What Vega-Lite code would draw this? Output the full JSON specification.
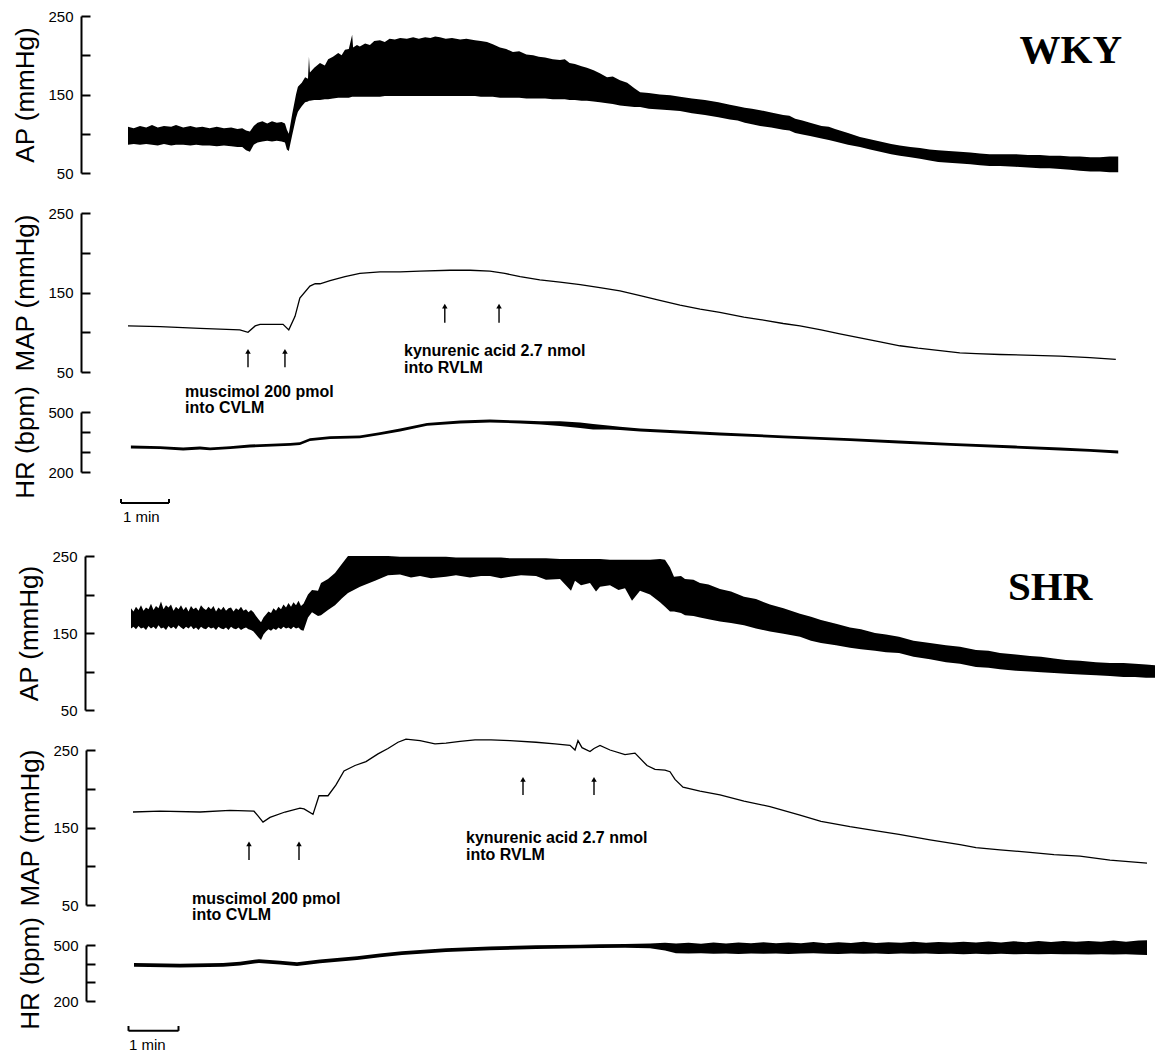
{
  "$schema": "https://vega.github.io/schema/vega-lite/v6.json",
  "background": "white",
  "padding": {"top": 9, "left": 12, "right": 0, "bottom": 0},
  "spacing": 40,
  "bounds": "flush",
  "datasets": {
    "wky_ap": [
      {"t":0,"sys":109,"dia":86},{"t":0.12,"sys":107,"dia":87},{"t":0.25,"sys":110,"dia":86},{"t":0.38,"sys":108,"dia":87},{"t":0.5,"sys":111,"dia":86},{"t":0.62,"sys":108,"dia":85},{"t":0.75,"sys":110,"dia":87},{"t":0.9,"sys":109,"dia":85},{"t":1.0,"sys":111,"dia":86},{"t":1.15,"sys":108,"dia":86},{"t":1.3,"sys":110,"dia":85},{"t":1.42,"sys":108,"dia":86},{"t":1.55,"sys":109,"dia":85},{"t":1.7,"sys":107,"dia":85},{"t":1.85,"sys":109,"dia":84},{"t":2.0,"sys":107,"dia":85},{"t":2.15,"sys":108,"dia":84},{"t":2.28,"sys":106,"dia":83},{"t":2.38,"sys":107,"dia":83},{"t":2.46,"sys":104,"dia":79},{"t":2.54,"sys":103,"dia":77},{"t":2.62,"sys":110,"dia":86},{"t":2.7,"sys":114,"dia":89},{"t":2.8,"sys":116,"dia":90},{"t":2.9,"sys":113,"dia":91},{"t":3.0,"sys":116,"dia":90},{"t":3.1,"sys":114,"dia":91},{"t":3.2,"sys":115,"dia":90},{"t":3.27,"sys":113,"dia":89},{"t":3.31,"sys":105,"dia":80},{"t":3.35,"sys":100,"dia":78},{"t":3.42,"sys":125,"dia":98},{"t":3.5,"sys":150,"dia":120},{"t":3.54,"sys":160,"dia":128},{"t":3.62,"sys":165,"dia":135},{"t":3.69,"sys":172,"dia":140},{"t":3.75,"sys":170,"dia":141},{"t":3.77,"sys":198,"dia":142},{"t":3.79,"sys":178,"dia":142},{"t":3.88,"sys":184,"dia":143},{"t":4.0,"sys":190,"dia":143},{"t":4.1,"sys":187,"dia":144},{"t":4.17,"sys":195,"dia":144},{"t":4.27,"sys":198,"dia":145},{"t":4.38,"sys":203,"dia":146},{"t":4.45,"sys":200,"dia":146},{"t":4.52,"sys":207,"dia":146},{"t":4.6,"sys":208,"dia":146},{"t":4.67,"sys":226,"dia":147},{"t":4.69,"sys":210,"dia":147},{"t":4.77,"sys":213,"dia":147},{"t":4.83,"sys":211,"dia":147},{"t":4.94,"sys":215,"dia":147},{"t":5.04,"sys":213,"dia":147},{"t":5.13,"sys":218,"dia":147},{"t":5.25,"sys":219,"dia":147},{"t":5.35,"sys":217,"dia":148},{"t":5.45,"sys":221,"dia":148},{"t":5.56,"sys":220,"dia":148},{"t":5.67,"sys":222,"dia":148},{"t":5.81,"sys":221,"dia":148},{"t":5.94,"sys":223,"dia":148},{"t":6.06,"sys":221,"dia":148},{"t":6.19,"sys":223,"dia":148},{"t":6.3,"sys":222,"dia":148},{"t":6.4,"sys":224,"dia":148},{"t":6.5,"sys":223,"dia":148},{"t":6.62,"sys":221,"dia":148},{"t":6.75,"sys":222,"dia":148},{"t":6.92,"sys":220,"dia":148},{"t":7.05,"sys":221,"dia":148},{"t":7.23,"sys":219,"dia":148},{"t":7.35,"sys":218,"dia":147},{"t":7.48,"sys":217,"dia":147},{"t":7.6,"sys":214,"dia":147},{"t":7.75,"sys":210,"dia":146},{"t":7.88,"sys":208,"dia":146},{"t":8.02,"sys":204,"dia":146},{"t":8.15,"sys":205,"dia":146},{"t":8.3,"sys":201,"dia":145},{"t":8.44,"sys":200,"dia":145},{"t":8.56,"sys":198,"dia":145},{"t":8.69,"sys":197,"dia":145},{"t":8.85,"sys":195,"dia":144},{"t":9.0,"sys":194,"dia":144},{"t":9.1,"sys":195,"dia":144},{"t":9.2,"sys":190,"dia":143},{"t":9.31,"sys":189,"dia":143},{"t":9.45,"sys":186,"dia":142},{"t":9.56,"sys":184,"dia":142},{"t":9.7,"sys":181,"dia":141},{"t":9.83,"sys":177,"dia":140},{"t":9.98,"sys":172,"dia":139},{"t":10.1,"sys":173,"dia":138},{"t":10.25,"sys":168,"dia":136},{"t":10.4,"sys":165,"dia":135},{"t":10.55,"sys":158,"dia":134},{"t":10.67,"sys":153,"dia":134},{"t":10.85,"sys":152,"dia":132},{"t":11.08,"sys":150,"dia":131},{"t":11.3,"sys":149,"dia":130},{"t":11.5,"sys":147,"dia":129},{"t":11.75,"sys":145,"dia":126},{"t":12.02,"sys":143,"dia":124},{"t":12.3,"sys":140,"dia":121},{"t":12.54,"sys":137,"dia":118},{"t":12.7,"sys":135,"dia":117},{"t":12.85,"sys":133,"dia":114},{"t":13.0,"sys":132,"dia":112},{"t":13.17,"sys":130,"dia":110},{"t":13.4,"sys":127,"dia":108},{"t":13.65,"sys":124,"dia":105},{"t":13.78,"sys":123,"dia":104},{"t":13.9,"sys":119,"dia":101},{"t":14.05,"sys":117,"dia":99},{"t":14.21,"sys":114,"dia":97},{"t":14.45,"sys":110,"dia":94},{"t":14.6,"sys":109,"dia":92},{"t":14.73,"sys":106,"dia":90},{"t":15.0,"sys":101,"dia":86},{"t":15.25,"sys":96,"dia":83},{"t":15.46,"sys":93,"dia":80},{"t":15.67,"sys":90,"dia":77},{"t":15.9,"sys":87,"dia":74},{"t":16.08,"sys":85,"dia":72},{"t":16.3,"sys":83,"dia":70},{"t":16.5,"sys":82,"dia":68},{"t":16.7,"sys":80,"dia":66},{"t":16.88,"sys":79,"dia":64},{"t":17.1,"sys":78,"dia":63},{"t":17.33,"sys":77,"dia":62},{"t":17.55,"sys":76,"dia":61},{"t":17.75,"sys":75,"dia":60},{"t":17.95,"sys":74,"dia":59},{"t":18.17,"sys":74,"dia":59},{"t":18.48,"sys":74,"dia":58},{"t":18.75,"sys":73,"dia":57},{"t":19.0,"sys":73,"dia":56},{"t":19.2,"sys":72,"dia":56},{"t":19.42,"sys":72,"dia":55},{"t":19.63,"sys":71,"dia":54},{"t":19.83,"sys":71,"dia":53},{"t":20.05,"sys":70,"dia":52},{"t":20.25,"sys":70,"dia":52},{"t":20.45,"sys":71,"dia":51},{"t":20.63,"sys":71,"dia":51}
    ],
    "wky_map": [
      {"t":0,"v":108},{"t":0.67,"v":107},{"t":1.5,"v":105},{"t":2.33,"v":103},{"t":2.5,"v":100},{"t":2.65,"v":108},{"t":2.75,"v":110},{"t":3.23,"v":110},{"t":3.35,"v":103},{"t":3.48,"v":120},{"t":3.58,"v":143},{"t":3.79,"v":158},{"t":3.9,"v":161},{"t":4.0,"v":161},{"t":4.21,"v":165},{"t":4.52,"v":170},{"t":4.83,"v":174},{"t":5.25,"v":176},{"t":5.67,"v":176},{"t":6.08,"v":177},{"t":6.71,"v":178},{"t":7.13,"v":178},{"t":7.54,"v":177},{"t":7.85,"v":174},{"t":8.17,"v":170},{"t":8.58,"v":166},{"t":9.0,"v":163},{"t":9.42,"v":160},{"t":9.83,"v":156},{"t":10.25,"v":152},{"t":10.67,"v":146},{"t":11.08,"v":140},{"t":11.5,"v":134},{"t":11.92,"v":129},{"t":12.33,"v":125},{"t":12.83,"v":119},{"t":13.17,"v":116},{"t":13.65,"v":111},{"t":14.0,"v":108},{"t":14.44,"v":103},{"t":14.83,"v":98},{"t":15.25,"v":93},{"t":15.67,"v":88},{"t":16.08,"v":83},{"t":16.46,"v":80},{"t":16.92,"v":77},{"t":17.33,"v":74},{"t":17.67,"v":73},{"t":18.17,"v":72},{"t":18.88,"v":71},{"t":19.42,"v":70},{"t":20.04,"v":68},{"t":20.58,"v":66}
    ],
    "wky_hr": [
      {"t":0.06,"lo":318,"hi":332},{"t":0.67,"lo":315,"hi":329},{"t":1.15,"lo":308,"hi":322},{"t":1.5,"lo":313,"hi":327},{"t":1.71,"lo":309,"hi":323},{"t":2.13,"lo":315,"hi":329},{"t":2.54,"lo":323,"hi":337},{"t":3.38,"lo":331,"hi":345},{"t":3.58,"lo":335,"hi":349},{"t":3.79,"lo":355,"hi":369},{"t":4.21,"lo":365,"hi":379},{"t":4.83,"lo":369,"hi":383},{"t":5.25,"lo":385,"hi":399},{"t":5.67,"lo":403,"hi":417},{"t":6.23,"lo":431,"hi":445},{"t":6.92,"lo":443,"hi":457},{"t":7.54,"lo":448,"hi":462},{"t":8.17,"lo":443,"hi":457},{"t":8.6,"lo":438,"hi":454},{"t":9.0,"lo":430,"hi":454},{"t":9.42,"lo":420,"hi":448},{"t":9.69,"lo":412,"hi":440},{"t":10.0,"lo":412,"hi":432},{"t":10.25,"lo":410,"hi":426},{"t":10.67,"lo":403,"hi":417},{"t":11.5,"lo":393,"hi":407},{"t":12.33,"lo":383,"hi":397},{"t":13.65,"lo":369,"hi":383},{"t":15.04,"lo":355,"hi":369},{"t":16.06,"lo":343,"hi":357},{"t":17.13,"lo":331,"hi":345},{"t":18.48,"lo":318,"hi":332},{"t":19.42,"lo":308,"hi":322},{"t":20.04,"lo":301,"hi":315},{"t":20.63,"lo":293,"hi":307}
    ],
    "shr_ap": [
      {"t":0.0,"sys":182,"dia":156},{"t":0.05,"sys":178,"dia":158},{"t":0.1,"sys":184,"dia":155},{"t":0.15,"sys":180,"dia":159},{"t":0.2,"sys":186,"dia":156},{"t":0.25,"sys":179,"dia":157},{"t":0.3,"sys":183,"dia":154},{"t":0.35,"sys":181,"dia":159},{"t":0.4,"sys":188,"dia":156},{"t":0.45,"sys":180,"dia":158},{"t":0.5,"sys":185,"dia":155},{"t":0.55,"sys":182,"dia":160},{"t":0.6,"sys":191,"dia":156},{"t":0.65,"sys":181,"dia":157},{"t":0.7,"sys":186,"dia":154},{"t":0.75,"sys":183,"dia":159},{"t":0.8,"sys":187,"dia":156},{"t":0.85,"sys":179,"dia":158},{"t":0.9,"sys":184,"dia":155},{"t":0.95,"sys":181,"dia":160},{"t":1.0,"sys":186,"dia":157},{"t":1.05,"sys":180,"dia":155},{"t":1.1,"sys":184,"dia":158},{"t":1.15,"sys":178,"dia":156},{"t":1.2,"sys":185,"dia":159},{"t":1.25,"sys":181,"dia":155},{"t":1.3,"sys":183,"dia":157},{"t":1.35,"sys":179,"dia":154},{"t":1.4,"sys":186,"dia":158},{"t":1.45,"sys":182,"dia":156},{"t":1.5,"sys":180,"dia":155},{"t":1.55,"sys":184,"dia":158},{"t":1.6,"sys":181,"dia":156},{"t":1.65,"sys":185,"dia":157},{"t":1.7,"sys":178,"dia":154},{"t":1.75,"sys":183,"dia":158},{"t":1.8,"sys":180,"dia":156},{"t":1.85,"sys":184,"dia":155},{"t":1.9,"sys":179,"dia":157},{"t":1.95,"sys":182,"dia":154},{"t":2.0,"sys":183,"dia":158},{"t":2.05,"sys":178,"dia":156},{"t":2.1,"sys":182,"dia":155},{"t":2.15,"sys":180,"dia":157},{"t":2.2,"sys":184,"dia":154},{"t":2.25,"sys":179,"dia":156},{"t":2.3,"sys":181,"dia":157},{"t":2.35,"sys":177,"dia":155},{"t":2.4,"sys":180,"dia":154},{"t":2.45,"sys":177,"dia":152},{"t":2.5,"sys":172,"dia":148},{"t":2.55,"sys":168,"dia":144},{"t":2.6,"sys":164,"dia":141},{"t":2.65,"sys":170,"dia":148},{"t":2.7,"sys":174,"dia":152},{"t":2.75,"sys":178,"dia":155},{"t":2.8,"sys":176,"dia":153},{"t":2.85,"sys":182,"dia":156},{"t":2.9,"sys":179,"dia":154},{"t":2.95,"sys":184,"dia":157},{"t":3.0,"sys":181,"dia":155},{"t":3.05,"sys":187,"dia":158},{"t":3.1,"sys":183,"dia":156},{"t":3.15,"sys":189,"dia":157},{"t":3.2,"sys":184,"dia":155},{"t":3.25,"sys":190,"dia":158},{"t":3.3,"sys":186,"dia":156},{"t":3.35,"sys":192,"dia":157},{"t":3.4,"sys":185,"dia":154},{"t":3.45,"sys":188,"dia":153},{"t":3.54,"sys":200,"dia":170},{"t":3.62,"sys":206,"dia":177},{"t":3.74,"sys":205,"dia":172},{"t":3.8,"sys":215,"dia":173},{"t":3.94,"sys":220,"dia":180},{"t":4.08,"sys":228,"dia":186},{"t":4.22,"sys":240,"dia":195},{"t":4.34,"sys":250,"dia":202},{"t":4.58,"sys":250,"dia":210},{"t":4.88,"sys":250,"dia":218},{"t":5.14,"sys":250,"dia":225},{"t":5.38,"sys":249,"dia":226},{"t":5.6,"sys":249,"dia":222},{"t":5.78,"sys":249,"dia":224},{"t":6.0,"sys":249,"dia":221},{"t":6.3,"sys":249,"dia":223},{"t":6.5,"sys":248,"dia":225},{"t":6.78,"sys":248,"dia":222},{"t":7.0,"sys":248,"dia":224},{"t":7.18,"sys":248,"dia":224},{"t":7.4,"sys":248,"dia":221},{"t":7.58,"sys":247,"dia":223},{"t":7.8,"sys":247,"dia":225},{"t":8.1,"sys":247,"dia":224},{"t":8.3,"sys":247,"dia":219},{"t":8.58,"sys":246,"dia":220},{"t":8.8,"sys":246,"dia":205},{"t":8.88,"sys":246,"dia":218},{"t":9.0,"sys":246,"dia":212},{"t":9.18,"sys":246,"dia":215},{"t":9.3,"sys":246,"dia":204},{"t":9.38,"sys":246,"dia":210},{"t":9.58,"sys":245,"dia":212},{"t":9.75,"sys":245,"dia":206},{"t":9.88,"sys":245,"dia":208},{"t":10.02,"sys":245,"dia":192},{"t":10.18,"sys":245,"dia":205},{"t":10.38,"sys":245,"dia":200},{"t":10.58,"sys":246,"dia":190},{"t":10.68,"sys":245,"dia":184},{"t":10.78,"sys":235,"dia":178},{"t":10.86,"sys":223,"dia":178},{"t":11.0,"sys":224,"dia":176},{"t":11.08,"sys":220,"dia":173},{"t":11.25,"sys":219,"dia":172},{"t":11.38,"sys":215,"dia":170},{"t":11.55,"sys":213,"dia":168},{"t":11.78,"sys":207,"dia":165},{"t":12.0,"sys":204,"dia":163},{"t":12.26,"sys":197,"dia":160},{"t":12.5,"sys":194,"dia":156},{"t":12.78,"sys":187,"dia":152},{"t":13.05,"sys":182,"dia":149},{"t":13.38,"sys":175,"dia":145},{"t":13.6,"sys":171,"dia":140},{"t":13.8,"sys":167,"dia":137},{"t":14.1,"sys":162,"dia":134},{"t":14.38,"sys":157,"dia":131},{"t":14.6,"sys":155,"dia":129},{"t":14.88,"sys":150,"dia":127},{"t":15.1,"sys":148,"dia":125},{"t":15.36,"sys":145,"dia":124},{"t":15.65,"sys":140,"dia":119},{"t":15.98,"sys":137,"dia":116},{"t":16.3,"sys":134,"dia":112},{"t":16.58,"sys":132,"dia":110},{"t":16.9,"sys":128,"dia":106},{"t":17.15,"sys":127,"dia":105},{"t":17.38,"sys":124,"dia":103},{"t":17.7,"sys":122,"dia":101},{"t":17.98,"sys":120,"dia":100},{"t":18.2,"sys":119,"dia":99},{"t":18.46,"sys":117,"dia":98},{"t":18.7,"sys":115,"dia":97},{"t":18.98,"sys":114,"dia":96},{"t":19.3,"sys":112,"dia":95},{"t":19.58,"sys":111,"dia":94},{"t":19.85,"sys":111,"dia":93},{"t":20.08,"sys":110,"dia":93},{"t":20.3,"sys":109,"dia":92},{"t":20.48,"sys":108,"dia":92}
    ],
    "shr_map": [
      {"t":0.04,"v":170},{"t":0.58,"v":171},{"t":1.38,"v":170},{"t":1.98,"v":172},{"t":2.46,"v":171},{"t":2.54,"v":165},{"t":2.64,"v":157},{"t":2.78,"v":163},{"t":3.08,"v":170},{"t":3.38,"v":175},{"t":3.46,"v":174},{"t":3.64,"v":167},{"t":3.76,"v":191},{"t":3.94,"v":191},{"t":4.1,"v":205},{"t":4.26,"v":223},{"t":4.48,"v":230},{"t":4.7,"v":235},{"t":4.94,"v":245},{"t":5.14,"v":252},{"t":5.34,"v":260},{"t":5.5,"v":264},{"t":5.78,"v":262},{"t":6.08,"v":258},{"t":6.3,"v":259},{"t":6.58,"v":261},{"t":6.88,"v":263},{"t":7.2,"v":263},{"t":7.58,"v":262},{"t":8.1,"v":260},{"t":8.48,"v":258},{"t":8.78,"v":256},{"t":8.88,"v":250},{"t":8.94,"v":262},{"t":9.02,"v":253},{"t":9.18,"v":248},{"t":9.26,"v":252},{"t":9.38,"v":256},{"t":9.58,"v":250},{"t":9.88,"v":244},{"t":10.08,"v":246},{"t":10.32,"v":230},{"t":10.48,"v":225},{"t":10.68,"v":224},{"t":10.78,"v":222},{"t":10.88,"v":212},{"t":11.04,"v":202},{"t":11.38,"v":197},{"t":11.78,"v":192},{"t":12.26,"v":184},{"t":12.78,"v":177},{"t":13.38,"v":166},{"t":13.8,"v":158},{"t":14.38,"v":151},{"t":14.88,"v":146},{"t":15.36,"v":141},{"t":15.98,"v":134},{"t":16.58,"v":128},{"t":16.9,"v":124},{"t":17.38,"v":121},{"t":17.98,"v":118},{"t":18.46,"v":115},{"t":18.98,"v":113},{"t":19.58,"v":108},{"t":20.32,"v":104}
    ],
    "shr_hr": [
      {"t":0.06,"lo":383,"hi":403},{"t":0.98,"lo":380,"hi":400},{"t":1.84,"lo":383,"hi":403},{"t":2.18,"lo":390,"hi":410},{"t":2.56,"lo":404,"hi":424},{"t":2.98,"lo":395,"hi":415},{"t":3.32,"lo":388,"hi":408},{"t":3.78,"lo":402,"hi":422},{"t":4.52,"lo":420,"hi":440},{"t":4.98,"lo":435,"hi":455},{"t":5.42,"lo":447,"hi":467},{"t":6.3,"lo":463,"hi":483},{"t":7.18,"lo":472,"hi":492},{"t":8.1,"lo":479,"hi":499},{"t":8.98,"lo":482,"hi":502},{"t":9.38,"lo":484,"hi":504},{"t":9.88,"lo":485,"hi":505},{"t":10.38,"lo":483,"hi":508},{"t":10.68,"lo":470,"hi":512},{"t":10.9,"lo":456,"hi":508},{"t":11.15,"lo":454,"hi":512},{"t":11.4,"lo":456,"hi":507},{"t":11.65,"lo":453,"hi":513},{"t":11.9,"lo":455,"hi":508},{"t":12.15,"lo":452,"hi":514},{"t":12.4,"lo":455,"hi":509},{"t":12.65,"lo":453,"hi":515},{"t":12.9,"lo":455,"hi":509},{"t":13.15,"lo":452,"hi":513},{"t":13.4,"lo":454,"hi":510},{"t":13.65,"lo":456,"hi":516},{"t":13.9,"lo":453,"hi":510},{"t":14.15,"lo":452,"hi":515},{"t":14.4,"lo":455,"hi":511},{"t":14.65,"lo":453,"hi":517},{"t":14.9,"lo":454,"hi":511},{"t":15.15,"lo":452,"hi":515},{"t":15.4,"lo":455,"hi":512},{"t":15.65,"lo":453,"hi":518},{"t":15.9,"lo":454,"hi":512},{"t":16.15,"lo":452,"hi":516},{"t":16.4,"lo":453,"hi":513},{"t":16.65,"lo":451,"hi":518},{"t":16.9,"lo":453,"hi":514},{"t":17.15,"lo":451,"hi":519},{"t":17.4,"lo":453,"hi":514},{"t":17.65,"lo":450,"hi":520},{"t":17.9,"lo":452,"hi":515},{"t":18.15,"lo":450,"hi":521},{"t":18.4,"lo":452,"hi":516},{"t":18.65,"lo":450,"hi":522},{"t":18.9,"lo":451,"hi":517},{"t":19.15,"lo":449,"hi":522},{"t":19.4,"lo":451,"hi":517},{"t":19.65,"lo":449,"hi":524},{"t":19.9,"lo":450,"hi":518},{"t":20.15,"lo":448,"hi":524},{"t":20.32,"lo":447,"hi":526}
    ],
    "arrows": [
      {"panel":"wmap","t":2.5,"v1":56,"v2":76},{"panel":"wmap","t":3.27,"v1":56,"v2":76},
      {"panel":"wmap","t":6.6,"v1":112,"v2":133},{"panel":"wmap","t":7.73,"v1":112,"v2":133},
      {"panel":"smap","t":2.36,"v1":108,"v2":129},{"panel":"smap","t":3.36,"v1":108,"v2":129},
      {"panel":"smap","t":7.84,"v1":192,"v2":212},{"panel":"smap","t":9.26,"v1":192,"v2":212}
    ],
    "notes": [
      {"panel":"wmap","t":1.19,"v":18.6,"label":"muscimol 200 pmol"},
      {"panel":"wmap","t":1.19,"v":-1.6,"label":"into CVLM"},
      {"panel":"wmap","t":5.75,"v":70,"label":"kynurenic acid 2.7 nmol"},
      {"panel":"wmap","t":5.75,"v":49,"label":"into RVLM"},
      {"panel":"smap","t":1.22,"v":51,"label":"muscimol 200 pmol"},
      {"panel":"smap","t":1.22,"v":30.6,"label":"into CVLM"},
      {"panel":"smap","t":6.7,"v":130,"label":"kynurenic acid 2.7 nmol"},
      {"panel":"smap","t":6.7,"v":108,"label":"into RVLM"}
    ],
    "bars": [
      {"panel":"whr","t":-0.146,"t2":0.854,"v":45,"v2":45},
      {"panel":"whr","t":-0.146,"t2":-0.146,"v":45,"v2":65},
      {"panel":"whr","t":0.854,"t2":0.854,"v":45,"v2":65},
      {"panel":"shr","t":-0.05,"t2":0.95,"v":40,"v2":40},
      {"panel":"shr","t":-0.05,"t2":-0.05,"v":40,"v2":66},
      {"panel":"shr","t":0.95,"t2":0.95,"v":40,"v2":66}
    ],
    "barlabels": [
      {"panel":"whr","t":-0.104,"v":-50,"label":"1 min"},
      {"panel":"shr","t":-0.04,"v":-62,"label":"1 min"}
    ],
    "groups": [
      {"panel":"wap","t":20.71,"v":190,"label":"WKY"},
      {"panel":"sap","t":17.54,"v":193,"label":"SHR"}
    ]
  },
  "vconcat": [
    {
      "width": 1040, "height": 157,
      "layer": [
        {"data": {"name": "wky_ap"}, "mark": {"type": "area", "color": "#000", "opacity": 1},
         "encoding": {
           "x": {"field": "t", "type": "quantitative", "scale": {"domain": [-0.875, 20.792], "nice": false, "zero": false}, "axis": null},
           "y": {"field": "sys", "type": "quantitative", "scale": {"domain": [50, 250], "nice": false, "zero": false},
                 "axis": {"title": "AP (mmHg)", "values": [50,100,150,200,250], "labelExpr": "datum.value % 100 == 50 ? datum.label : ''", "offset": 5, "titleX": -48}},
           "y2": {"field": "dia"}
         }},
        {"data": {"name": "groups"}, "transform": [{"filter": "datum.panel == 'wap'"}],
         "mark": {"type": "text", "font": "Liberation Serif", "fontWeight": "bold", "fontSize": 41, "align": "right", "baseline": "alphabetic", "color": "#000"},
         "encoding": {"x": {"field": "t", "type": "quantitative", "axis": null}, "y": {"field": "v", "type": "quantitative",
                 "axis": {"title": "AP (mmHg)", "values": [50,100,150,200,250], "labelExpr": "datum.value % 100 == 50 ? datum.label : ''", "offset": 5, "titleX": -48}}, "text": {"field": "label"}}}
      ]
    },
    {
      "width": 1040, "height": 159,
      "layer": [
        {"data": {"name": "wky_map"}, "mark": {"type": "line", "color": "#000", "strokeWidth": 1.3},
         "encoding": {
           "x": {"field": "t", "type": "quantitative", "scale": {"domain": [-0.875, 20.792], "nice": false, "zero": false}, "axis": null},
           "y": {"field": "v", "type": "quantitative", "scale": {"domain": [50, 250], "nice": false, "zero": false},
                 "axis": {"title": "MAP (mmHg)", "values": [50,100,150,200,250], "labelExpr": "datum.value % 100 == 50 ? datum.label : ''", "offset": 5, "titleX": -48}}
         }},
        {"data": {"name": "arrows"}, "transform": [{"filter": "datum.panel == 'wmap'"}],
         "mark": {"type": "rule", "color": "#000", "strokeWidth": 1.4},
         "encoding": {"x": {"field": "t", "type": "quantitative", "axis": null}, "y": {"field": "v1", "type": "quantitative",
                 "axis": {"title": "MAP (mmHg)", "values": [50,100,150,200,250], "labelExpr": "datum.value % 100 == 50 ? datum.label : ''", "offset": 5, "titleX": -48}}, "y2": {"field": "v2"}}},
        {"data": {"name": "arrows"}, "transform": [{"filter": "datum.panel == 'wmap'"}],
         "mark": {"type": "point", "shape": "triangle-up", "filled": true, "color": "#000", "size": 30, "opacity": 1},
         "encoding": {"x": {"field": "t", "type": "quantitative", "axis": null}, "y": {"field": "v2", "type": "quantitative",
                 "axis": {"title": "MAP (mmHg)", "values": [50,100,150,200,250], "labelExpr": "datum.value % 100 == 50 ? datum.label : ''", "offset": 5, "titleX": -48}}}},
        {"data": {"name": "notes"}, "transform": [{"filter": "datum.panel == 'wmap'"}],
         "mark": {"type": "text", "font": "Liberation Sans", "fontWeight": "bold", "fontSize": 16, "align": "left", "baseline": "alphabetic", "color": "#000"},
         "encoding": {"x": {"field": "t", "type": "quantitative", "axis": null}, "y": {"field": "v", "type": "quantitative",
                 "axis": {"title": "MAP (mmHg)", "values": [50,100,150,200,250], "labelExpr": "datum.value % 100 == 50 ? datum.label : ''", "offset": 5, "titleX": -48}}, "text": {"field": "label"}}}
      ]
    },
    {
      "width": 1040, "height": 60,
      "layer": [
        {"data": {"name": "wky_hr"}, "mark": {"type": "area", "color": "#000", "opacity": 1},
         "encoding": {
           "x": {"field": "t", "type": "quantitative", "scale": {"domain": [-0.875, 20.792], "nice": false, "zero": false}, "axis": null},
           "y": {"field": "hi", "type": "quantitative", "scale": {"domain": [200, 500], "nice": false, "zero": false},
                 "axis": {"title": "HR (bpm)", "values": [200,300,400,500], "labelExpr": "datum.value == 200 || datum.value == 500 ? datum.label : ''", "offset": 5, "titleX": -48}},
           "y2": {"field": "lo"}
         }},
        {"data": {"name": "bars"}, "transform": [{"filter": "datum.panel == 'whr'"}],
         "mark": {"type": "rule", "color": "#000", "strokeWidth": 2},
         "encoding": {"x": {"field": "t", "type": "quantitative", "axis": null}, "x2": {"field": "t2"}, "y": {"field": "v", "type": "quantitative",
                 "axis": {"title": "HR (bpm)", "values": [200,300,400,500], "labelExpr": "datum.value == 200 || datum.value == 500 ? datum.label : ''", "offset": 5, "titleX": -48}}, "y2": {"field": "v2"}}},
        {"data": {"name": "barlabels"}, "transform": [{"filter": "datum.panel == 'whr'"}],
         "mark": {"type": "text", "font": "Liberation Sans", "fontSize": 15, "align": "left", "baseline": "alphabetic", "color": "#000"},
         "encoding": {"x": {"field": "t", "type": "quantitative", "axis": null}, "y": {"field": "v", "type": "quantitative",
                 "axis": {"title": "HR (bpm)", "values": [200,300,400,500], "labelExpr": "datum.value == 200 || datum.value == 500 ? datum.label : ''", "offset": 5, "titleX": -48}}, "text": {"field": "label"}}}
      ]
    },
    {
      "width": 1040, "height": 4,
      "data": {"values": []},
      "mark": "point"
    },
    {
      "width": 1072, "height": 154,
      "layer": [
        {"data": {"name": "shr_ap"}, "mark": {"type": "area", "color": "#000", "opacity": 1},
         "encoding": {
           "x": {"field": "t", "type": "quantitative", "scale": {"domain": [-0.9, 20.54], "nice": false, "zero": false}, "axis": null},
           "y": {"field": "sys", "type": "quantitative", "scale": {"domain": [50, 250], "nice": false, "zero": false},
                 "axis": {"title": "AP (mmHg)", "values": [50,100,150,200,250], "labelExpr": "datum.value % 100 == 50 ? datum.label : ''", "offset": 1, "titleX": -48}},
           "y2": {"field": "dia"}
         }},
        {"data": {"name": "groups"}, "transform": [{"filter": "datum.panel == 'sap'"}],
         "mark": {"type": "text", "font": "Liberation Serif", "fontWeight": "bold", "fontSize": 41, "align": "left", "baseline": "alphabetic", "color": "#000"},
         "encoding": {"x": {"field": "t", "type": "quantitative", "axis": null}, "y": {"field": "v", "type": "quantitative",
                 "axis": {"title": "AP (mmHg)", "values": [50,100,150,200,250], "labelExpr": "datum.value % 100 == 50 ? datum.label : ''", "offset": 1, "titleX": -48}}, "text": {"field": "label"}}}
      ]
    },
    {
      "width": 1072, "height": 155,
      "layer": [
        {"data": {"name": "shr_map"}, "mark": {"type": "line", "color": "#000", "strokeWidth": 1.3},
         "encoding": {
           "x": {"field": "t", "type": "quantitative", "scale": {"domain": [-0.9, 20.54], "nice": false, "zero": false}, "axis": null},
           "y": {"field": "v", "type": "quantitative", "scale": {"domain": [50, 250], "nice": false, "zero": false},
                 "axis": {"title": "MAP (mmHg)", "values": [50,100,150,200,250], "labelExpr": "datum.value % 100 == 50 ? datum.label : ''", "offset": 0, "titleX": -48}}
         }},
        {"data": {"name": "arrows"}, "transform": [{"filter": "datum.panel == 'smap'"}],
         "mark": {"type": "rule", "color": "#000", "strokeWidth": 1.4},
         "encoding": {"x": {"field": "t", "type": "quantitative", "axis": null}, "y": {"field": "v1", "type": "quantitative",
                 "axis": {"title": "MAP (mmHg)", "values": [50,100,150,200,250], "labelExpr": "datum.value % 100 == 50 ? datum.label : ''", "offset": 0, "titleX": -48}}, "y2": {"field": "v2"}}},
        {"data": {"name": "arrows"}, "transform": [{"filter": "datum.panel == 'smap'"}],
         "mark": {"type": "point", "shape": "triangle-up", "filled": true, "color": "#000", "size": 30, "opacity": 1},
         "encoding": {"x": {"field": "t", "type": "quantitative", "axis": null}, "y": {"field": "v2", "type": "quantitative",
                 "axis": {"title": "MAP (mmHg)", "values": [50,100,150,200,250], "labelExpr": "datum.value % 100 == 50 ? datum.label : ''", "offset": 0, "titleX": -48}}}},
        {"data": {"name": "notes"}, "transform": [{"filter": "datum.panel == 'smap'"}],
         "mark": {"type": "text", "font": "Liberation Sans", "fontWeight": "bold", "fontSize": 16, "align": "left", "baseline": "alphabetic", "color": "#000"},
         "encoding": {"x": {"field": "t", "type": "quantitative", "axis": null}, "y": {"field": "v", "type": "quantitative",
                 "axis": {"title": "MAP (mmHg)", "values": [50,100,150,200,250], "labelExpr": "datum.value % 100 == 50 ? datum.label : ''", "offset": 0, "titleX": -48}}, "text": {"field": "label"}}}
      ]
    },
    {
      "width": 1072, "height": 56,
      "layer": [
        {"data": {"name": "shr_hr"}, "mark": {"type": "area", "color": "#000", "opacity": 1},
         "encoding": {
           "x": {"field": "t", "type": "quantitative", "scale": {"domain": [-0.9, 20.54], "nice": false, "zero": false}, "axis": null},
           "y": {"field": "hi", "type": "quantitative", "scale": {"domain": [200, 500], "nice": false, "zero": false},
                 "axis": {"title": "HR (bpm)", "values": [200,300,400,500], "labelExpr": "datum.value == 200 || datum.value == 500 ? datum.label : ''", "offset": 0, "titleX": -48}},
           "y2": {"field": "lo"}
         }},
        {"data": {"name": "bars"}, "transform": [{"filter": "datum.panel == 'shr'"}],
         "mark": {"type": "rule", "color": "#000", "strokeWidth": 2},
         "encoding": {"x": {"field": "t", "type": "quantitative", "axis": null}, "x2": {"field": "t2"}, "y": {"field": "v", "type": "quantitative",
                 "axis": {"title": "HR (bpm)", "values": [200,300,400,500], "labelExpr": "datum.value == 200 || datum.value == 500 ? datum.label : ''", "offset": 0, "titleX": -48}}, "y2": {"field": "v2"}}},
        {"data": {"name": "barlabels"}, "transform": [{"filter": "datum.panel == 'shr'"}],
         "mark": {"type": "text", "font": "Liberation Sans", "fontSize": 15, "align": "left", "baseline": "alphabetic", "color": "#000"},
         "encoding": {"x": {"field": "t", "type": "quantitative", "axis": null}, "y": {"field": "v", "type": "quantitative",
                 "axis": {"title": "HR (bpm)", "values": [200,300,400,500], "labelExpr": "datum.value == 200 || datum.value == 500 ? datum.label : ''", "offset": 0, "titleX": -48}}, "text": {"field": "label"}}}
      ]
    }
  ],
  "config": {
    "view": {"stroke": null},
    "axis": {
      "grid": false,
      "domainColor": "#000", "domainWidth": 2,
      "tickColor": "#000", "tickWidth": 2, "tickSize": -9,
      "labelPadding": 17, "labelFont": "Liberation Sans", "labelFontSize": 15, "labelColor": "#000", "labelOverlap": false,
      "titleFont": "Liberation Sans", "titleFontSize": 26, "titleFontWeight": "normal", "titleColor": "#000", "titleBaseline": "alphabetic"
    }
  }
}
